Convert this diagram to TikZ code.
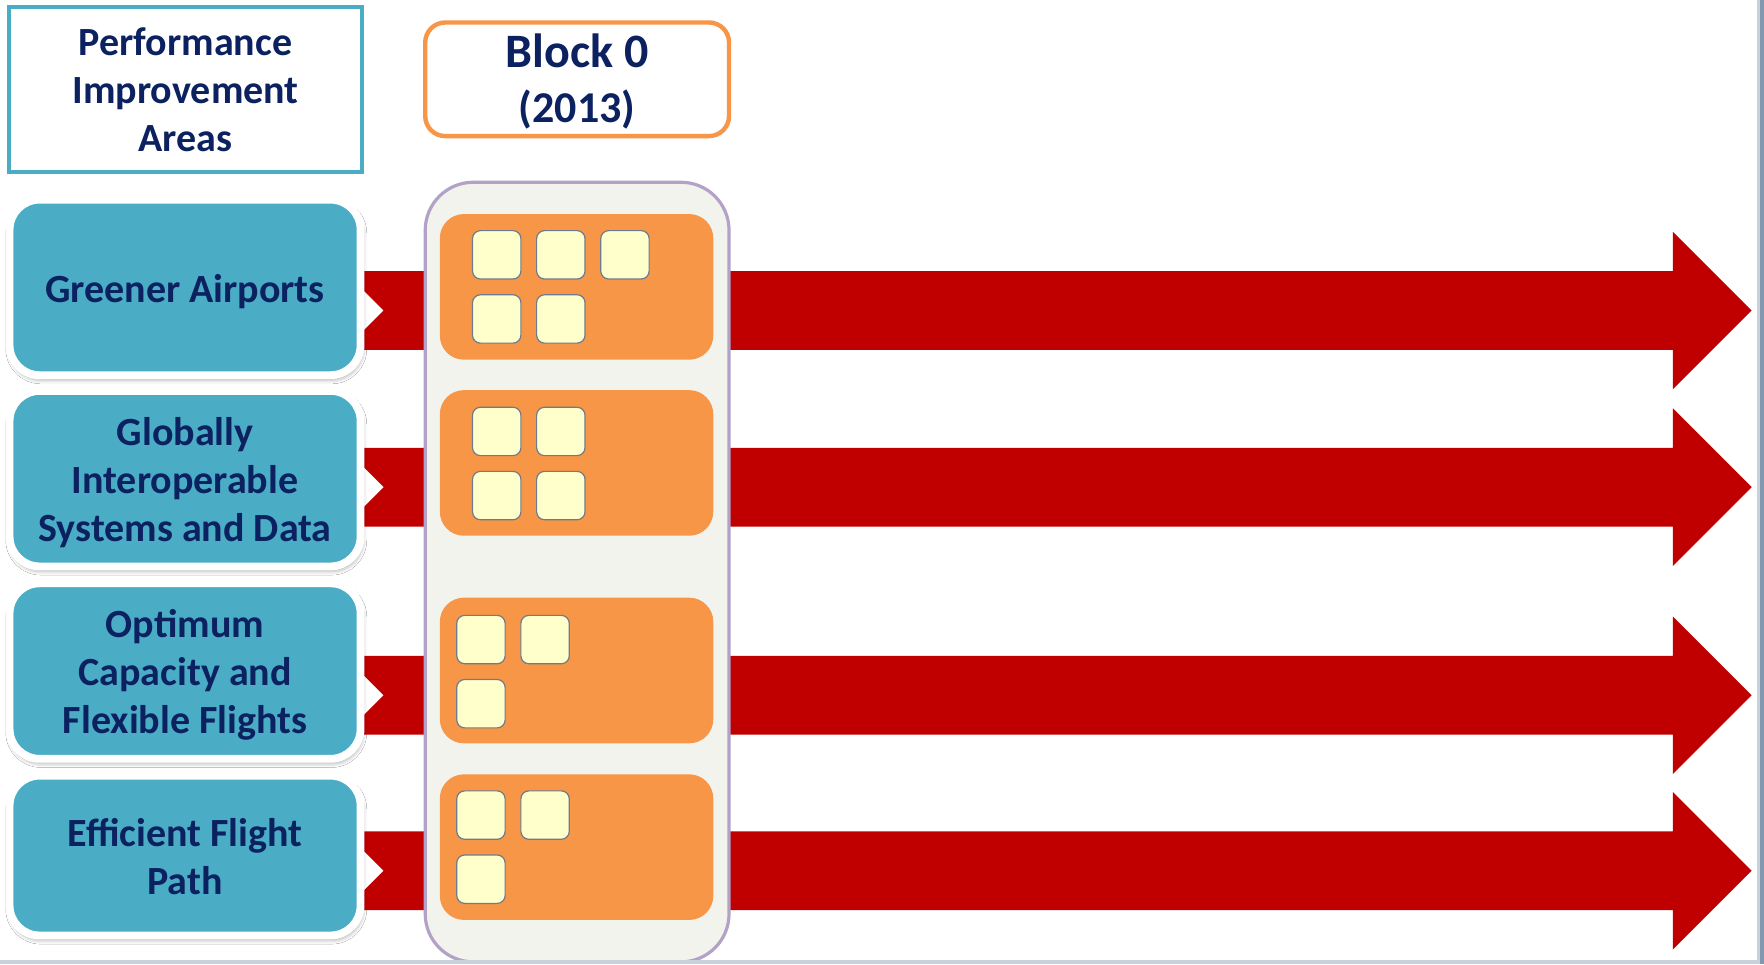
\documentclass[tikz,border=0pt]{standalone}
\usepackage{fontspec}
\setmainfont{Carlito}
\usetikzlibrary{shadows.blur}
\definecolor{navy}{HTML}{0B2160}
\definecolor{teal}{HTML}{4BACC6}
\definecolor{orng}{HTML}{F79646}
\definecolor{arrred}{HTML}{C00000}
\definecolor{lav}{HTML}{B3A2C7}
\definecolor{colfill}{HTML}{F3F3ED}
\definecolor{ylw}{HTML}{FFFFCC}
\definecolor{ysqline}{HTML}{6E7B8B}
\definecolor{framebl}{HTML}{8298B0}
\definecolor{framelt}{HTML}{C9D1DC}
\tikzset{
  hdrtext/.style={text=navy, font=\bfseries\fontsize{20}{24}\selectfont, align=center},
  hdrbox/.style={hdrtext, draw=teal, line width=1.8pt, fill=white,
    minimum width=176.6pt, minimum height=82.7pt, inner sep=0pt},
  blockbox/.style={draw=orng, line width=2.2pt, fill=white, rounded corners=10pt,
    minimum width=151.9pt, minimum height=56.8pt, inner sep=0pt},
  blocktext/.style={text=navy, align=center, font=\bfseries\fontsize{24}{27.6}\selectfont},
  pia/.style={fill=teal, draw=white, line width=3.9pt, rounded corners=15pt,
    minimum width=175.5pt, inner sep=0pt,
    blur shadow={shadow xshift=0.6pt, shadow yshift=-1.8pt, shadow blur radius=2.5pt,
      shadow opacity=45}},
  column/.style={fill=colfill, draw=lav, line width=1.6pt, rounded corners=24pt,
    minimum width=151.9pt, minimum height=389.8pt, inner sep=0pt},
  obox/.style={fill=orng, rounded corners=12pt, minimum width=136.7pt,
    minimum height=72.8pt, inner sep=0pt},
  ysq/.style={fill=ylw, draw=ysqline, line width=0.6pt, rounded corners=4pt,
    minimum width=24.2pt, minimum height=24.2pt, inner sep=0pt},
  bigarrow/.style={fill=arrred}
}
\begin{document}
\begin{tikzpicture}[x=0.5625pt,y=-0.5625pt]
\useasboundingbox (0,0) rectangle (1568,857);
\fill[white] (0,0) rectangle (1568,857);

% red arrows (behind everything)
\foreach \c/\nm in {276/a1,433/a2,618/a3,774/a4}{
  \coordinate (\nm) at (306,\c);
  \fill[bigarrow] (\nm) ++(0,-35) -- ++(1181,0) -- ++(0,-35) -- ++(70,70)
     -- ++(-70,70) -- ++(0,-35) -- ++(-1181,0) -- ++(35,-35) -- cycle;
}

% header boxes
\node[hdrbox] (pia) at (165,79.5) {Performance\\Improvement\\Areas};
\node[blockbox] (blk) at (513,70.5) {};
\node[blocktext] (blkt) at ([yshift=-1.2pt]blk.center)
  {Block 0\\{\fontsize{22}{27.6}\selectfont (2013)}};

% performance improvement areas
\node[pia, minimum height=87.75pt] (g1) at (164.5,255.5) {};
\node[pia, minimum height=87.75pt] (g2) at (164.5,425.5) {};
\node[pia, minimum height=87.75pt] (g3) at (164.5,596.5) {};
\node[pia, minimum height=79.9pt] (g4) at (164.5,760.5) {};
\node[hdrtext] (t1) at ([yshift=-2.2pt]g1.center) {Greener Airports};
\node[hdrtext] (t2) at ([yshift=-2.2pt]g2.center) {Globally\\Interoperable\\Systems and Data};
\node[hdrtext] (t3) at ([yshift=-2.1pt]g3.center) {Optimum\\Capacity and\\Flexible Flights};
\node[hdrtext] (t4) at ([yshift=-0.5pt]g4.center) {Efficient Flight\\Path};

% block 0 column
\node[column] (col) at (513,508.5) {};
\node[obox] (o1) at (512.5,255) {};
\node[obox] (o2) at (512.5,411.5) {};
\node[obox] (o3) at (512.5,596) {};
\node[obox] (o4) at (512.5,753) {};

% modules
\foreach \n/\x/\y in {
  m11/441.5/226.5, m12/498.5/226.5, m13/555.5/226.5, m14/441.5/283.5, m15/498.5/283.5,
  m21/441.5/383.5, m22/498.5/383.5, m23/441.5/440.5, m24/498.5/440.5,
  m31/427.5/568.5, m32/484.5/568.5, m33/427.5/625.5,
  m41/427.5/724.5, m42/484.5/724.5, m43/427.5/781.5}{
  \node[ysq] (\n) at (\x,\y) {};
}

% window frame edges
\fill[framelt] (0,853.5) rectangle (1568,857);
\fill[framelt] (1562,0) rectangle (1564.5,857);
\fill[framebl] (1564.5,0) rectangle (1568,857);
\end{tikzpicture}
\end{document}
